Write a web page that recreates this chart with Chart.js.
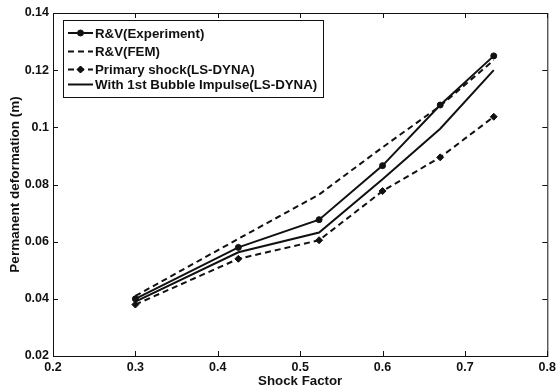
<!DOCTYPE html>
<html>
<head>
<meta charset="utf-8">
<script src="https://cdn.jsdelivr.net/npm/chart.js@4/dist/chart.umd.min.js"></script>
<style>
  html, body { margin: 0; padding: 0; background: #fff; }
  #wrap { width: 560px; height: 389px; }
</style>
</head>
<body>
<div id="wrap"><canvas id="myChart" width="560" height="389"></canvas></div>
<script>
// Data
const shockFactor = [0.3, 0.425, 0.523, 0.6, 0.67, 0.735]
const experiment = [0.040, 0.058, 0.0677, 0.0866, 0.1078, 0.125]
const fem = [0.041, 0.061, 0.0765, 0.093, 0.1075, 0.1235]
const primaryShock = [0.038, 0.054, 0.0605, 0.0777, 0.0895, 0.1037]
const bubbleImpulse = [0.039, 0.0563, 0.0632, 0.0818, 0.0995, 0.1200]
const xTicks = [0.2, 0.3, 0.4, 0.5, 0.6, 0.7, 0.8]
const yTicks = [0.02, 0.04, 0.06, 0.08, 0.1, 0.12, 0.14]
const seriesNames = ['R&V(Experiment)', 'R&V(FEM)', 'Primary shock(LS-DYNA)', 'With 1st Bubble Impulse(LS-DYNA)']

const ink = '#111'
const family = '"Liberation Sans", Arial, sans-serif'
const legendFont = 'bold 13.3px ' + family

const pts = (ys) => shockFactor.map((x, i) => ({ x: x, y: ys[i] }))

// frame with inward ticks on all four sides (matlab style) + legend box
const framePlugin = {
    id: 'frame',
    afterDraw(chart) {
        const { ctx, chartArea: a, scales } = chart
        ctx.save()
        ctx.strokeStyle = ink
        ctx.lineWidth = 1
        ctx.strokeRect(a.left + 0.5, a.top + 0.5, a.right - a.left, a.bottom - a.top)
        ctx.beginPath()
        for (const v of xTicks) {
            const px = Math.round(scales.x.getPixelForValue(v)) + 0.5
            ctx.moveTo(px, a.bottom); ctx.lineTo(px, a.bottom - 5)
            ctx.moveTo(px, a.top); ctx.lineTo(px, a.top + 5)
        }
        for (const v of yTicks) {
            const py = Math.round(scales.y.getPixelForValue(v)) + 0.5
            ctx.moveTo(a.left, py); ctx.lineTo(a.left + 5, py)
            ctx.moveTo(a.right, py); ctx.lineTo(a.right - 5, py)
        }
        ctx.stroke()

        const bx = 63, by = 20, bw = 260, bh = 77
        ctx.fillStyle = '#fff'
        ctx.fillRect(bx, by, bw, bh)
        ctx.strokeRect(bx + 0.5, by + 0.5, bw, bh)
        const rows = [33, 51.5, 69.5, 84.5]
        ctx.font = legendFont
        ctx.textBaseline = 'middle'
        chart.data.datasets.forEach((ds, i) => {
            const y = rows[i]
            ctx.save()
            ctx.strokeStyle = ink
            ctx.lineWidth = ds.borderWidth
            ctx.setLineDash(ds.borderDash || [])
            ctx.beginPath()
            ctx.moveTo(68, y); ctx.lineTo(93, y)
            ctx.stroke()
            ctx.restore()
            if (ds.pointRadius > 0) {
                Chart.helpers.drawPoint(ctx, { pointStyle: ds.pointStyle, radius: ds.pointRadius, borderWidth: 1 }, 80.5, y)
                ctx.fillStyle = ink
                ctx.fill()
            }
            ctx.fillStyle = ink
            ctx.fillText(ds.label, 95, y + 1)
        })
        ctx.restore()
    }
}

const ctx = document.getElementById('myChart').getContext('2d')
const myChart = new Chart(ctx, {
    type: 'line',
    data: {
        datasets: [{
            label: seriesNames[0],
            data: pts(experiment),
            borderColor: ink,
            backgroundColor: ink,
            borderWidth: 2,
            pointStyle: 'circle',
            pointRadius: 3,
            pointBorderWidth: 1
        }, {
            label: seriesNames[1],
            data: pts(fem),
            borderColor: ink,
            backgroundColor: ink,
            borderWidth: 2,
            borderDash: [6, 4],
            pointRadius: 0
        }, {
            label: seriesNames[2],
            data: pts(primaryShock),
            borderColor: ink,
            backgroundColor: ink,
            borderWidth: 2,
            borderDash: [6, 4],
            pointStyle: 'rectRot',
            pointRadius: 3.5,
            pointBorderWidth: 1
        }, {
            label: seriesNames[3],
            data: pts(bubbleImpulse),
            borderColor: ink,
            backgroundColor: ink,
            borderWidth: 2,
            pointRadius: 0
        }]
    },
    options: {
        responsive: false,
        animation: false,
        layout: { padding: { top: 13, right: 7, left: 0, bottom: 0 } },
        plugins: {
            legend: { display: false },
            tooltip: { enabled: false }
        },
        scales: {
            x: {
                type: 'linear',
                min: 0.2,
                max: 0.8,
                afterBuildTicks: (s) => { s.ticks = xTicks.map(v => ({ value: v })) },
                afterFit: (s) => { s.height = 33 },
                grid: { display: false, drawTicks: false },
                border: { display: false },
                ticks: {
                    padding: 4,
                    color: ink,
                    font: { family: family, size: 12.5, weight: 'bold' },
                    callback: (v) => String(Math.round(v * 10) / 10)
                },
                title: {
                    display: true,
                    text: 'Shock Factor',
                    color: ink,
                    padding: { top: 0, bottom: 0 },
                    font: { family: family, size: 13.3, weight: 'bold' }
                }
            },
            y: {
                min: 0.02,
                max: 0.14,
                afterBuildTicks: (s) => { s.ticks = yTicks.map(v => ({ value: v })) },
                afterFit: (s) => { s.width = 53 },
                grid: { display: false, drawTicks: false },
                border: { display: false },
                ticks: {
                    padding: 4,
                    color: ink,
                    font: { family: family, size: 12.5, weight: 'bold' },
                    callback: (v) => String(Math.round(v * 100) / 100)
                },
                title: {
                    display: true,
                    text: 'Permanent deformation (m)',
                    color: ink,
                    padding: { top: 7, bottom: 0 },
                    font: { family: family, size: 13.5, weight: 'bold' }
                }
            }
        }
    },
    plugins: [framePlugin]
})
</script>
</body>
</html>
